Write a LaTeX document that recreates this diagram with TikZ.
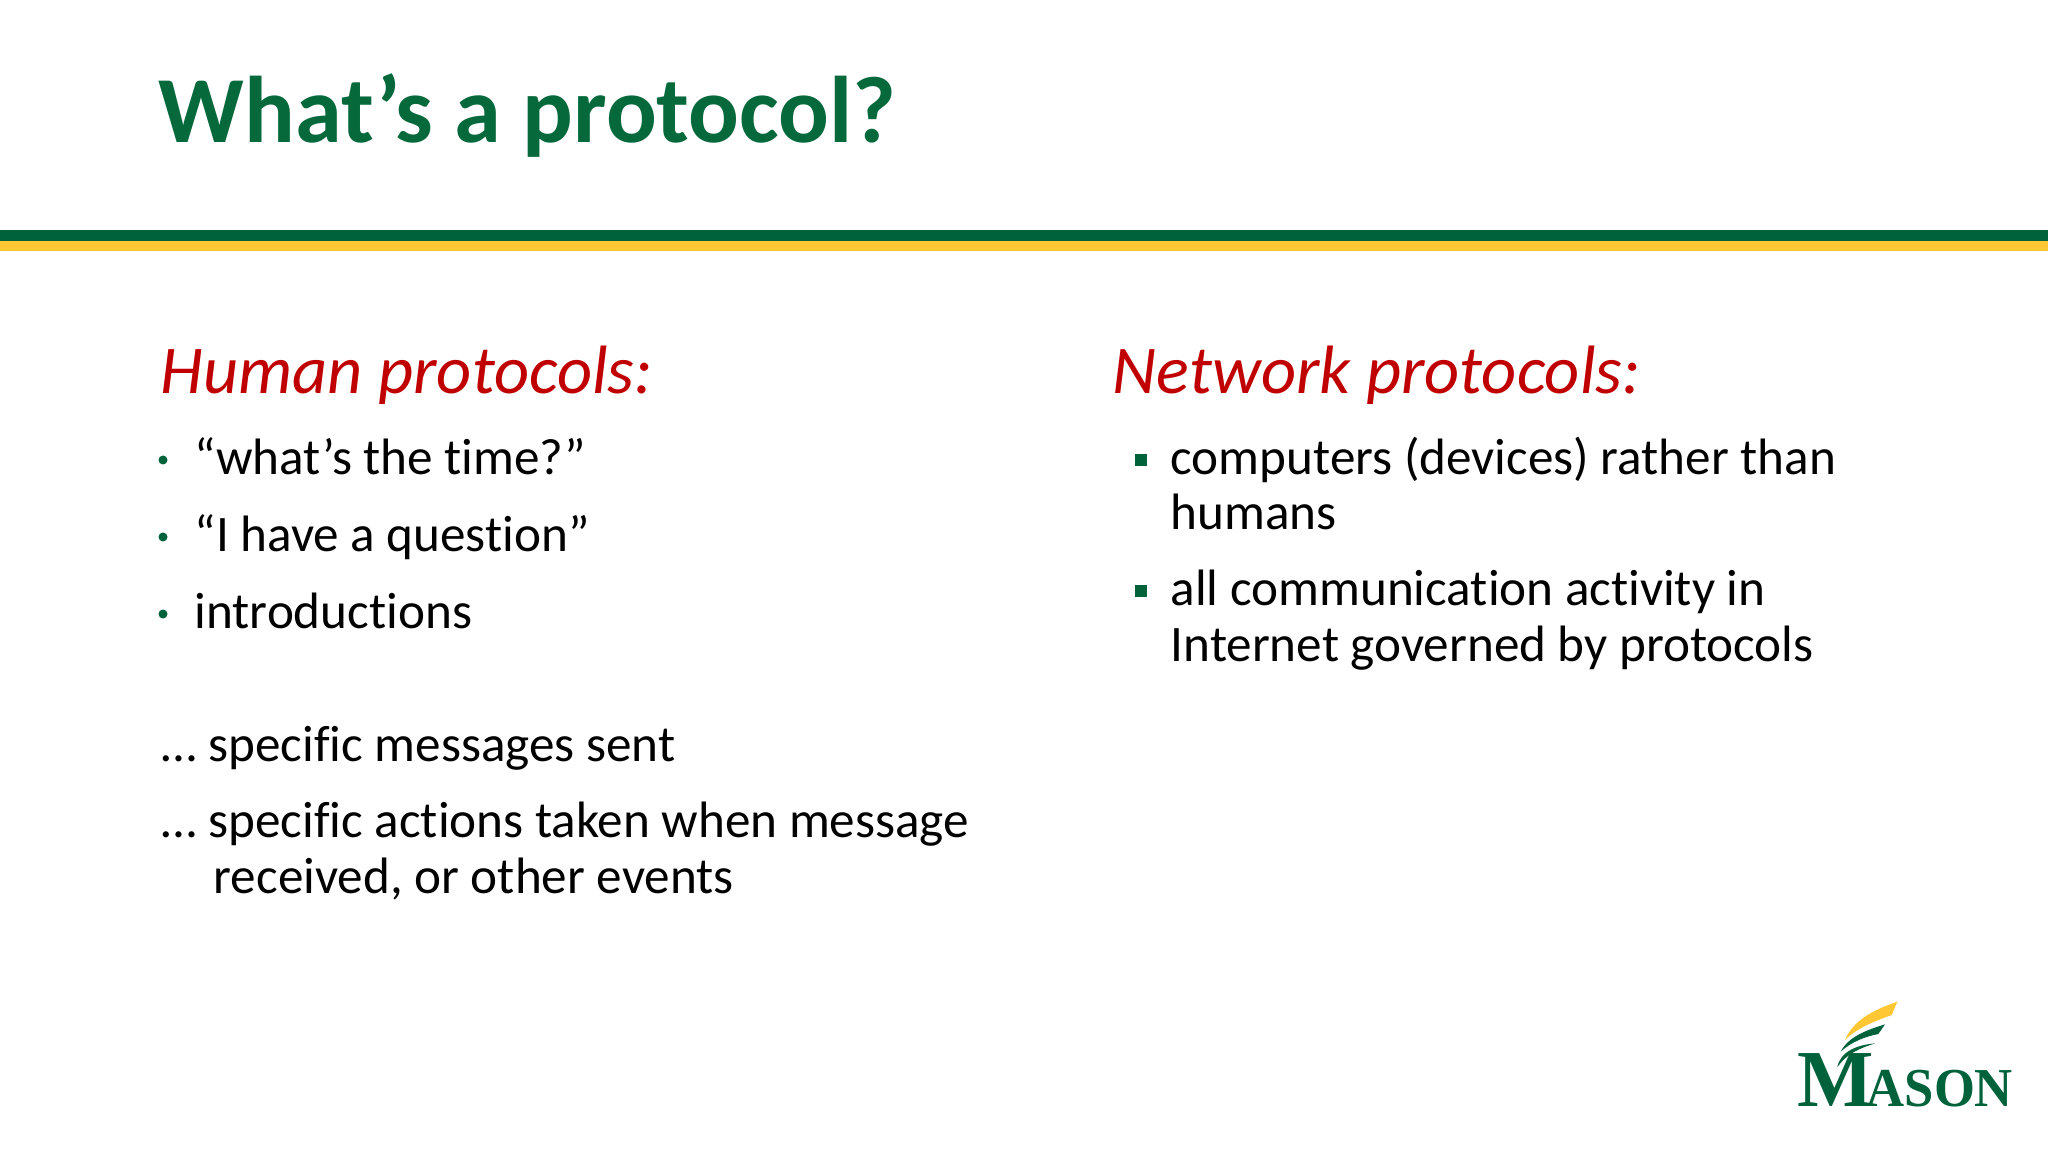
\documentclass[tikz,border=0pt]{standalone}
\usepackage{fontspec}
\usepackage{xcolor}
\setmainfont[Ligatures=NoCommon]{Carlito}
\newfontfamily\logofont{Liberation Serif}
\definecolor{masongreen}{HTML}{00623A}
\definecolor{titlegreen}{HTML}{06693C}
\definecolor{masongold}{HTML}{FFC733}
\definecolor{headred}{HTML}{C00000}
\tikzset{
    title/.style={anchor=base west,inner sep=0pt,font=\fontsize{26.9}{30}\selectfont\bfseries,text=titlegreen},
    head/.style={anchor=base west,inner sep=0pt,font=\fontsize{19.45}{22}\selectfont\itshape,text=headred},
    body/.style={anchor=base west,inner sep=0pt,font=\fontsize{14.55}{16}\selectfont,text=black},
    logotext/.style={anchor=base west,inner sep=0pt,text=masongreen},
}
\begin{document}
\begin{tikzpicture}[x=0.01cm,y=-0.01cm]
    \useasboundingbox (0,0) rectangle (2048,1152);

    % Title and band
    \node[title] (titletext) at (158,143) {What’s a protocol?};
    \fill[masongreen] (0,230) rectangle (2048,241); % Green
    \fill[masongold] (0,241) rectangle (2048,251); % Gold

    % Human protocols
    \node[head] (humanhead) at (160,394) {Human protocols:};
    \fill[masongreen] (163,460) circle (4.5);
    \node[body] (humanone) at (194,475) {“what’s the time?”};
    \fill[masongreen] (163,537) circle (4.5);
    \node[body] (humantwo) at (194,551) {“I have a question”};
    \fill[masongreen] (163,614) circle (4.5);
    \node[body] (humanthree) at (194,628) {introductions};
    \node[body] (msgsent) at (161,761) {… specific messages sent};
    \node[body] (actions) at (161,837) {… specific actions taken when message};
    \node[body] (actionsmore) at (213,893) {received, or other events};

    % Network protocols
    \node[head] (nethead) at (1112,394) {Network protocols:};
    \fill[masongreen] (1135,454) rectangle (1147,466);
    \node[body] (netone) at (1170,475) {computers (devices) rather than};
    \node[body] (netonemore) at (1170,530) {humans};
    \fill[masongreen] (1135,585) rectangle (1147,597);
    \node[body] (nettwo) at (1170,606) {all communication activity in};
    \node[body] (nettwomore) at (1170,661) {Internet governed by protocols};

    % Logo
    \begin{scope}[shift={(1760,980)},x=0.01cm/3,y=-0.01cm/3]
        \fill[masongold] (412,65) -- (395,105) .. controls (340,125) and (290,145) .. (255,180) .. controls (280,120) and (340,90) .. (412,65) -- cycle;
        \fill[masongreen] (375,133) -- (355,162) .. controls (315,170) and (275,185) .. (242,215) .. controls (265,170) and (320,150) .. (375,133) -- cycle;
        \fill[masongreen] (345,190) .. controls (300,205) and (260,220) .. (232,262) .. controls (240,215) and (290,195) .. (345,190) -- cycle;
        \node[logotext,font=\logofont\bfseries\fontsize{23}{25}\selectfont] (logom) at (110,380) {M};
        \node[logotext,font=\logofont\bfseries\fontsize{15.6}{18}\selectfont,xscale=0.96] (logorest) at (318,380) {ASON};
    \end{scope}
\end{tikzpicture}
\end{document}
